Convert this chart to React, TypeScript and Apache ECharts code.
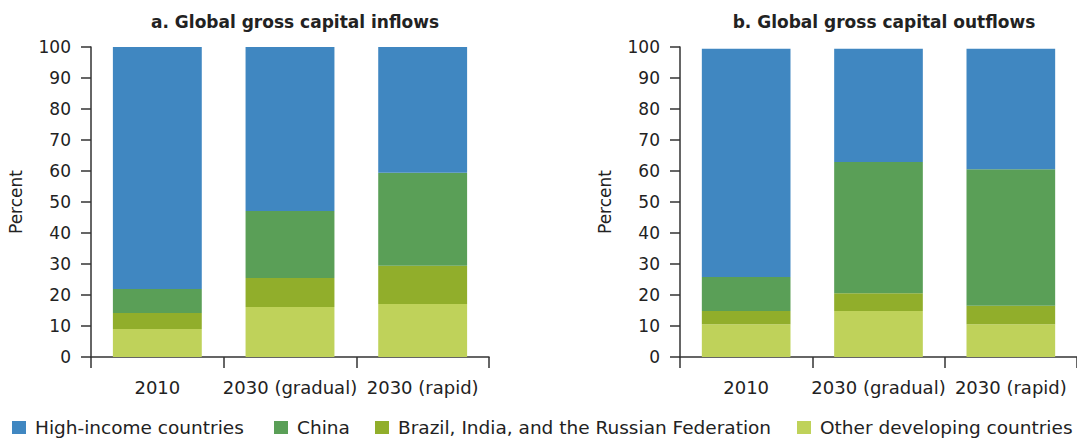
import React, { useEffect, useRef } from "react";
import * as echarts from "echarts";

const categories = ["2010", "2030 (gradual)", "2030 (rapid)"];
const seriesNames = [
  "High-income countries",
  "China",
  "Brazil, India, and the Russian Federation",
  "Other developing countries",
];
const colors = ["#4087c1", "#5a9f57", "#91ae2b", "#bfd25a"];

// Panel a: inflows (segment shares, percent)
const inflowHigh = [78.1, 52.9, 40.6];
const inflowChina = [7.7, 21.6, 30.0];
const inflowBRI = [5.2, 9.4, 12.3];
const inflowOther = [9.0, 16.1, 17.1];

// Panel b: outflows (segment shares, percent)
const outflowHigh = [73.6, 36.5, 38.8];
const outflowChina = [11.0, 42.3, 44.1];
const outflowBRI = [4.2, 5.8, 5.9];
const outflowOther = [10.6, 14.8, 10.6];

const yTicks = [0, 10, 20, 30, 40, 50, 60, 70, 80, 90, 100];
const titles = ["a. Global gross capital inflows", "b. Global gross capital outflows"];

const FONT = "DejaVu Sans";
const TEXT = "#222222";
const AXIS = "#333333";

export default function App() {
  const ref = useRef<HTMLDivElement>(null);
  useEffect(() => {
    document.body.style.margin = "0";
    if (!ref.current) return;
    const chart = echarts.init(ref.current, undefined, { renderer: "svg" });

    const grids = [
      { left: 91, top: 47, width: 398, height: 310 },
      { left: 680, top: 47, width: 398, height: 310 },
    ];

    const xAxis = grids.map((_, i) => ({
      type: "category",
      gridIndex: i,
      data: categories,
      axisLine: { lineStyle: { color: AXIS, width: 1.5 } },
      axisTick: { show: true, length: 11, lineStyle: { color: AXIS, width: 1.5 } },
      axisLabel: { color: TEXT, fontSize: 18, fontFamily: FONT, margin: 21, interval: 0 },
    }));

    const yAxis = grids.map((_, i) => ({
      type: "value",
      gridIndex: i,
      min: yTicks[0],
      max: yTicks[yTicks.length - 1],
      interval: 10,
      name: "Percent",
      nameLocation: "middle",
      nameGap: 67,
      nameTextStyle: { color: TEXT, fontSize: 17, fontFamily: FONT },
      axisLine: { show: true, lineStyle: { color: AXIS, width: 1.5 } },
      axisTick: { show: true, length: 10, lineStyle: { color: AXIS, width: 1.5 } },
      axisLabel: { color: TEXT, fontSize: 17, fontFamily: FONT, margin: 20 },
      splitLine: { show: false },
    }));

    const panelData = [
      [inflowHigh, inflowChina, inflowBRI, inflowOther],
      [outflowHigh, outflowChina, outflowBRI, outflowOther],
    ];

    const series: any[] = [];
    panelData.forEach((panel, p) => {
      // stack from bottom: other, BRI, China, High-income
      [3, 2, 1, 0].forEach((k) => {
        series.push({
          type: "bar",
          name: seriesNames[k],
          xAxisIndex: p,
          yAxisIndex: p,
          stack: "s" + p,
          barWidth: "67%",
          data: panel[k],
          itemStyle: { color: colors[k] },
        });
      });
    });

    const legendLefts = [12, 274, 375, 797];
    const legend = seriesNames.map((n, i) => ({
      data: [n],
      left: legendLefts[i],
      top: 418,
      itemWidth: 14,
      itemHeight: 13,
      icon: "rect",
      padding: 0,
      textStyle: { color: TEXT, fontSize: 18.5, fontFamily: FONT, padding: [0, 0, 0, 4] },
    }));

    chart.setOption({
      animation: false,
      color: colors,
      title: titles.map((t, i) => ({
        text: t,
        left: grids[i].left + grids[i].width / 2,
        textAlign: "center",
        top: 8,
        textStyle: { color: TEXT, fontSize: 17, fontWeight: "bold", fontFamily: FONT },
      })),
      grid: grids,
      xAxis,
      yAxis,
      legend,
      series,
    });
    return () => chart.dispose();
  }, []);
  return <div ref={ref} style={{ width: 1077, height: 438 }} />;
}
